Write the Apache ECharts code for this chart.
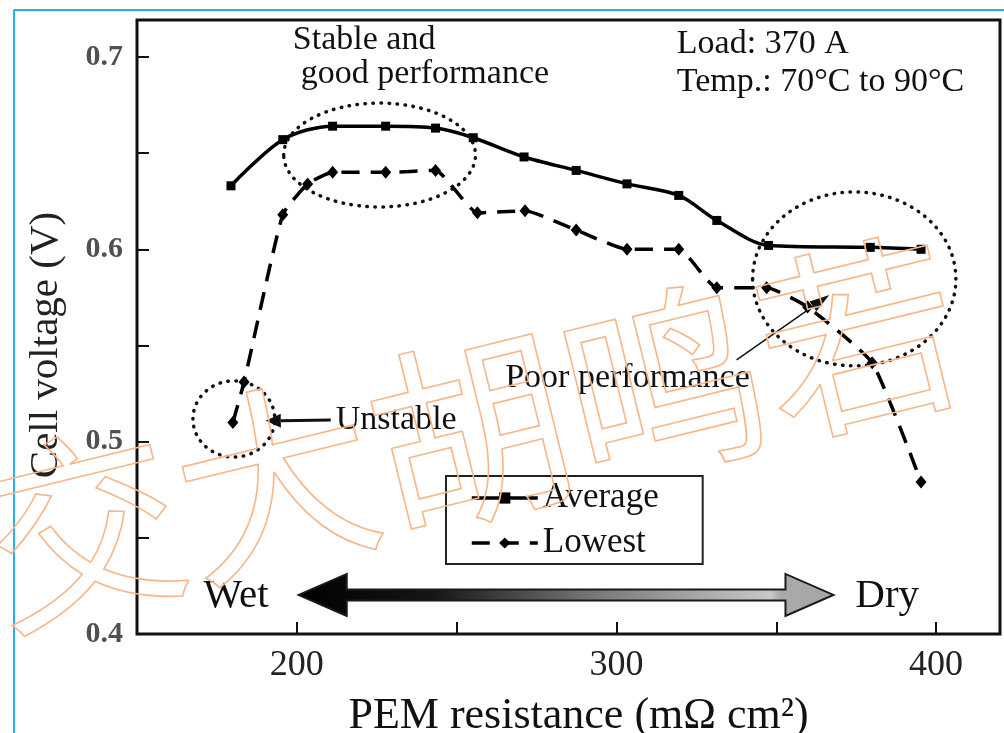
<!DOCTYPE html>
<html><head><meta charset="utf-8">
<script src="https://cdn.jsdelivr.net/npm/echarts@6/dist/echarts.min.js"></script>
<style>html,body{margin:0;padding:0;background:#fff}#c{width:1004px;height:733px}</style>
</head><body><div id="c"></div>
<script>
// ---- data ----
const avgRes  = [179.4, 195.6, 211.2, 227.8, 243.4, 255.2, 271.1, 287.4, 303.3, 319.5, 331.4, 347.6, 379.4, 395.3];
const avgVolt = [0.633, 0.657, 0.664, 0.664, 0.663, 0.658, 0.648, 0.641, 0.634, 0.628, 0.615, 0.602, 0.601, 0.600];
const lowRes  = [180.0, 183.5, 195.6, 203.4, 211.2, 227.8, 243.4, 256.5, 271.4, 287.4, 303.3, 319.5, 331.4, 347.0, 359.8, 380.0, 395.3];
const lowVolt = [0.510, 0.531, 0.618, 0.634, 0.640, 0.640, 0.641, 0.619, 0.620, 0.610, 0.600, 0.600, 0.580, 0.580, 0.570, 0.541, 0.479];
const seriesNames = ['Average', 'Lowest'];
const xTicks  = [200, 250, 300, 350, 400];
const xLabels = [200, 300, 400];
const yTicks  = [0.4, 0.45, 0.5, 0.55, 0.6, 0.65, 0.7];
const yLabels = [0.4, 0.5, 0.6, 0.7];
const xName = 'PEM resistance (mΩ cm²)';
const yName = 'Cell voltage (V)';
const conditionText = ['Load: 370 A', 'Temp.: 70°C to 90°C'];
const stableText = ['Stable and', 'good performance'];

const serif = 'Liberation Serif';
const zip = (a, b) => a.map((v, i) => [v, b[i]]);

const chart = echarts.init(document.getElementById('c'));
chart.setOption({
  animation: false,
  backgroundColor: '#fff',
  grid: { left: 137, right: 4, top: 20, bottom: 99, show: true, borderColor: '#111', borderWidth: 3,
          containLabel: false, outerBoundsMode: 'none' },
  xAxis: {
    type: 'value', min: 150, max: 420, interval: 50,
    axisLine: { show: false },
    splitLine: { show: false },
    axisTick: { inside: true, length: 12, lineStyle: { width: 2, color: '#111' }, customValues: xTicks },
    axisLabel: { customValues: xLabels, fontFamily: serif, fontSize: 36, color: '#222', margin: 14 },
    name: xName, nameLocation: 'middle', nameGap: 60,
    nameTextStyle: { fontFamily: serif, fontSize: 44, color: '#111', padding: [0, 0, 0, 20] }
  },
  yAxis: {
    type: 'value', min: 0.4, max: 0.7192, interval: 0.05,
    axisLine: { show: false },
    splitLine: { show: false },
    axisTick: { inside: true, length: 12, lineStyle: { width: 2, color: '#111' }, customValues: yTicks },
    axisLabel: { customValues: yLabels, fontFamily: serif, fontSize: 30, fontWeight: 'bold', color: '#505050', margin: 14,
                 formatter: v => v.toFixed(1) },
    name: yName, nameLocation: 'middle', nameGap: 70,
    nameTextStyle: { fontFamily: serif, fontSize: 41, color: '#222', padding: [0, 36, 0, 0] }
  },
  legend: {
    orient: 'vertical', left: 446, top: 476, data: seriesNames,
    itemWidth: 66, itemHeight: 14, itemGap: 9,
    padding: [4, 44, 3, 24],
    borderColor: '#222', borderWidth: 2,
    lineStyle: { width: 3.5 },
    textStyle: { fontFamily: serif, fontSize: 35, color: '#111', lineHeight: 36 }
  },
  series: [
    { name: seriesNames[0], type: 'line', data: zip(avgRes, avgVolt), smooth: 0.3,
      symbol: 'rect', symbolSize: 9, lineStyle: { color: '#000', width: 3.5 }, itemStyle: { color: '#000' }, z: 3 },
    { name: seriesNames[1], type: 'line', data: zip(lowRes, lowVolt), smooth: 0.15,
      symbol: 'diamond', symbolSize: [11, 13], lineStyle: { color: '#000', width: 3.5, type: [18, 11] }, itemStyle: { color: '#000' }, z: 3 }
  ]
});

// ---- annotations, anchored in data coordinates ----
const P = (x, y) => chart.convertToPixel({ gridIndex: 0 }, [x, y]);
const ellipses = [
  { cx: 225.9, cy: 0.649, rx: 30.0, ry: 0.027 },
  { cx: 180.3, cy: 0.5118, rx: 12.8, ry: 0.0198 },
  { cx: 374.4, cy: 0.5846, rx: 31.8, ry: 0.0452 }
];
const g = [];
ellipses.forEach(e => {
  const c = P(e.cx, e.cy), r = P(e.cx + e.rx, e.cy + e.ry);
  g.push({ type: 'ellipse', shape: { cx: c[0], cy: c[1], rx: Math.abs(r[0] - c[0]), ry: Math.abs(r[1] - c[1]) },
    style: { fill: 'none', stroke: '#111', lineWidth: 3.5, lineDash: [0.5, 7.5], lineCap: 'round' }, z: 10 });
});
function txt(text, xy, size, align) {
  g.push({ type: 'text', x: xy[0], y: xy[1], z: 10,
    style: { text, fontFamily: serif, fontSize: size, fill: '#111', align: align || 'left', verticalAlign: 'middle' } });
}
txt(stableText[0], P(198.75, 0.7089), 34);
txt(stableText[1], P(201.25, 0.6912), 34);
txt(conditionText[0], P(318.9, 0.7068), 34);
txt(conditionText[1], P(318.9, 0.6871), 34);
txt('Unstable', P(212.2, 0.5113), 34);
txt('Poor performance', P(265.2, 0.5331), 34);
txt('Wet', P(181.0, 0.4198), 41, 'center');
txt('Dry', P(384.7, 0.4198), 41, 'center');

function arrow(from, to, width, headLen, headHalf) {
  const a = P(from[0], from[1]), b = P(to[0], to[1]);
  const dx = b[0] - a[0], dy = b[1] - a[1], L = Math.hypot(dx, dy);
  const ux = dx / L, uy = dy / L, nx = -uy, ny = ux;
  const bx = b[0] - ux * headLen, by = b[1] - uy * headLen;
  g.push({ type: 'line', shape: { x1: a[0], y1: a[1], x2: bx, y2: by }, style: { stroke: '#111', lineWidth: width }, z: 10 });
  g.push({ type: 'polygon', shape: { points: [[b[0], b[1]], [bx + nx * headHalf, by + ny * headHalf], [bx - nx * headHalf, by - ny * headHalf]] },
    style: { fill: '#111' }, z: 10 });
}
arrow([210.6, 0.5113], [190.3, 0.5108], 3, 15, 7);
arrow([337.6, 0.5425], [366.6, 0.5763], 1.5, 20, 6);

// Wet <-> Dry double arrow
(function () {
  const l = P(200.6, 0.4203), r = P(367.9, 0.4203);
  const y = l[1], hl = 48, hh = 21, sh = 5.5;
  g.push({ type: 'polygon', z: 10,
    shape: { points: [[l[0], y], [l[0] + hl, y - hh], [l[0] + hl, y - sh], [r[0] - hl, y - sh], [r[0] - hl, y - hh], [r[0], y],
                      [r[0] - hl, y + hh], [r[0] - hl, y + sh], [l[0] + hl, y + sh], [l[0] + hl, y + hh]] },
    style: { stroke: '#1a1a1a', lineWidth: 2,
      fill: { type: 'linear', x: 0, y: 0, x2: 1, y2: 0, colorStops: [
        { offset: 0, color: '#000' }, { offset: 0.25, color: '#151515' }, { offset: 0.55, color: '#777' },
        { offset: 0.88, color: '#c8c8c8' }, { offset: 0.9, color: '#aaa' }, { offset: 1, color: '#a5a5a5' }] } } });
})();

// page frame and watermark
g.push({ type: 'line', shape: { x1: 14, y1: 10, x2: 14, y2: 733 }, style: { stroke: '#25aff0', lineWidth: 2 }, z: 20 });
g.push({ type: 'line', shape: { x1: 14, y1: 10, x2: 1004, y2: 10 }, style: { stroke: '#25aff0', lineWidth: 2 }, z: 20 });
g.push({ type: 'text', x: 470, y: 432, rotation: 13.8 * Math.PI / 180, z: 30,
  style: { text: '交大胡鸣若', fontFamily: 'Noto Sans CJK SC', fontSize: 200, fill: 'rgba(0,0,0,0)',
           stroke: '#f5b78a', lineWidth: 1.6, align: 'center', verticalAlign: 'middle' } });

chart.setOption({ graphic: g });
</script></body></html>
